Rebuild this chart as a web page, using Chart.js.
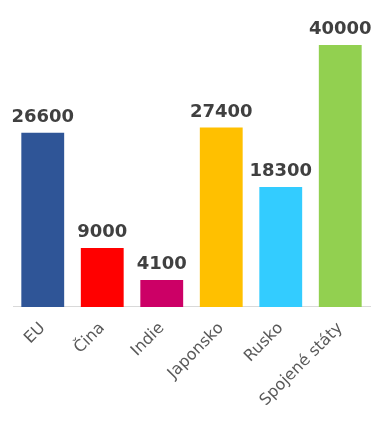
<!DOCTYPE html>
<html>
<head>
<meta charset="utf-8">
<script src="https://cdn.jsdelivr.net/npm/chart.js@4"></script>
<style>
  html, body { margin: 0; padding: 0; background: #fff; }
  #wrap { width: 382px; height: 421px; }
</style>
</head>
<body>
<div id="wrap"><canvas id="barchart" width="382" height="421"></canvas></div>
<script>
const categories = ["EU", "Čina", "Indie", "Japonsko", "Rusko", "Spojené státy"];
const values = [26600, 9000, 4100, 27400, 18300, 40000];
const barColors = ["#2f5597", "#ff0000", "#cc0066", "#ffc000", "#33ccff", "#92d050"];

// draws the value above each bar
const valueLabels = {
  id: "valueLabels",
  afterDatasetsDraw(chart) {
    const ctx = chart.ctx;
    const meta = chart.getDatasetMeta(0);
    ctx.save();
    ctx.font = "bold 18px 'DejaVu Sans'";
    ctx.fillStyle = "#404040";
    ctx.textAlign = "center";
    ctx.textBaseline = "alphabetic";
    meta.data.forEach((bar, i) => {
      ctx.fillText(String(values[i]), bar.x, bar.y - 11);
    });
    ctx.restore();
  }
};

document.addEventListener("DOMContentLoaded", function () {
  const ctx = document.getElementById("barchart").getContext("2d");
  new Chart(ctx, {
    type: "bar",
    data: {
      labels: categories,
      datasets: [
        {
          data: values,
          backgroundColor: barColors,
          borderWidth: 0,
          categoryPercentage: 1,
          barPercentage: 0.72,
        },
      ],
    },
    options: {
      responsive: false,
      animation: false,
      layout: { padding: { left: 13, right: 12, top: 45, bottom: -1 } },
      plugins: {
        legend: { display: false },
        tooltip: { enabled: false },
      },
      scales: {
        x: {
          grid: { display: false, drawTicks: false },
          border: { display: true, color: "#d9d9d9", width: 1 },
          ticks: {
            color: "#595959",
            font: { family: "'DejaVu Sans'", size: 16 },
            minRotation: 45,
            maxRotation: 45,
            padding: 12,
          },
        },
        y: {
          display: false,
          min: 0,
          max: 40000,
        },
      },
    },
    plugins: [valueLabels],
  });
});
</script>
</body>
</html>
